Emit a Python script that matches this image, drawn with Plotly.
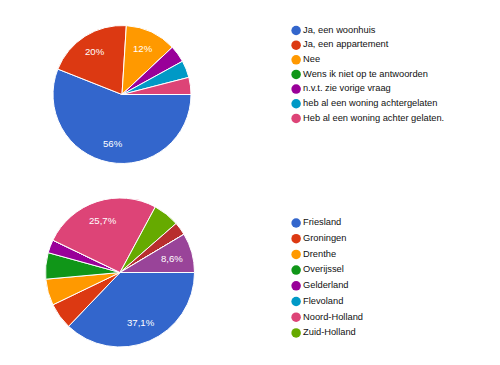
import math
import plotly.graph_objects as go

# ---- data ----
q1_labels = ["Ja, een woonhuis", "Ja, een appartement", "Nee",
             "Wens ik niet op te antwoorden", "n.v.t. zie vorige vraag",
             "heb al een woning achtergelaten", "Heb al een woning achter gelaten."]
q1_counts = [14, 5, 3, 0, 1, 1, 1]

q2_labels = ["Friesland", "Groningen", "Drenthe", "Overijssel", "Gelderland",
             "Flevoland", "Noord-Holland", "Zuid-Holland", "Utrecht", "Zeeland",
             "Noord-Brabant"]
q2_counts = [13, 2, 2, 2, 1, 0, 9, 2, 1, 0, 3]
q2_legend_shown = 8  # legend in the reference lists only the first 8 entries

palette = ["#3366cc", "#dc3912", "#ff9900", "#109618", "#990099", "#0099c6",
           "#dd4477", "#66aa00", "#b82e2e", "#316395", "#994499"]

FONT = "Liberation Sans, Arial, Helvetica, sans-serif"
# the page body has an 8px default margin; the figure is sized to fit inside
OFF = 8
W, H = 500 - OFF, 365 - OFF
START_DEG = 90  # first slice starts at 3 o'clock, clockwise
LABEL_R = 0.73


def px(x):
    return (x - OFF) / W


def py(y):
    return (H - (y - OFF)) / H


def pct_text(p):
    s = f"{p:.1f}".replace(".", ",")
    if s.endswith(",0"):
        s = s[:-2]
    return s + "%"


fig = go.Figure()
annotations = []


def add_pie(labels, counts, cx, cy, r, threshold=8.0):
    fig.add_trace(go.Pie(
        labels=labels, values=counts, sort=False, direction="clockwise",
        rotation=START_DEG, showlegend=False, textinfo="none",
        marker=dict(colors=palette[:len(labels)], line=dict(color="white", width=1)),
        domain=dict(x=[px(cx - r), px(cx + r)], y=[py(cy + r), py(cy - r)]),
        hoverinfo="label+percent",
    ))
    total = sum(counts)
    acc = 0
    for c in counts:
        p = c / total * 100
        mid = START_DEG + (acc + c / 2) / total * 360
        acc += c
        if p < threshold:
            continue
        a = math.radians(mid)
        x = cx + LABEL_R * r * math.sin(a)
        y = cy - LABEL_R * r * math.cos(a)
        annotations.append(dict(
            x=px(x), y=py(y), xref="paper", yref="paper", showarrow=False,
            text=pct_text(p), xanchor="center", yanchor="middle",
            font=dict(family=FONT, size=9.6, color="white")))


add_pie(q1_labels, q1_counts, 122, 94.5, 69)
add_pie(q2_labels, q2_counts, 120, 272.5, 74.5)


def add_legend(labels, xa, ya):
    n = len(labels)
    fig.add_trace(go.Scatter(
        x=[0] * n, y=list(range(n)), mode="markers+text",
        text=labels, textposition="middle right",
        textfont=dict(family=FONT, size=9.3, color="#111111"),
        marker=dict(size=9.5, color=palette[:n]),
        cliponaxis=False, showlegend=False, hoverinfo="text",
        xaxis=xa, yaxis=ya,
    ))


add_legend(q1_labels, "x", "y")
add_legend(q2_labels[:q2_legend_shown], "x2", "y2")

top_first, top_step, top_n = 30.5, 14.65, len(q1_labels)
bot_first, bot_step, bot_n = 223, 15.7, q2_legend_shown
LEG_X = 296

ax = dict(visible=False, fixedrange=True)
fig.update_layout(
    width=W, height=H, margin=dict(l=0, r=0, t=0, b=0),
    paper_bgcolor="white", plot_bgcolor="white",
    font=dict(family=FONT),
    annotations=annotations,
    xaxis=dict(ax, domain=[px(LEG_X - 6), 1], range=[-6, 200]),
    yaxis=dict(ax, range=[top_n - 0.5, -0.5],
               domain=[py(top_first + top_step * (top_n - 0.5)),
                       py(top_first - top_step * 0.5)]),
    xaxis2=dict(ax, domain=[px(LEG_X - 6), 1], range=[-6, 200]),
    yaxis2=dict(ax, range=[bot_n - 0.5, -0.5],
                domain=[py(bot_first + bot_step * (bot_n - 0.5)),
                        py(bot_first - bot_step * 0.5)]),
)

fig.write_html("out.html")
